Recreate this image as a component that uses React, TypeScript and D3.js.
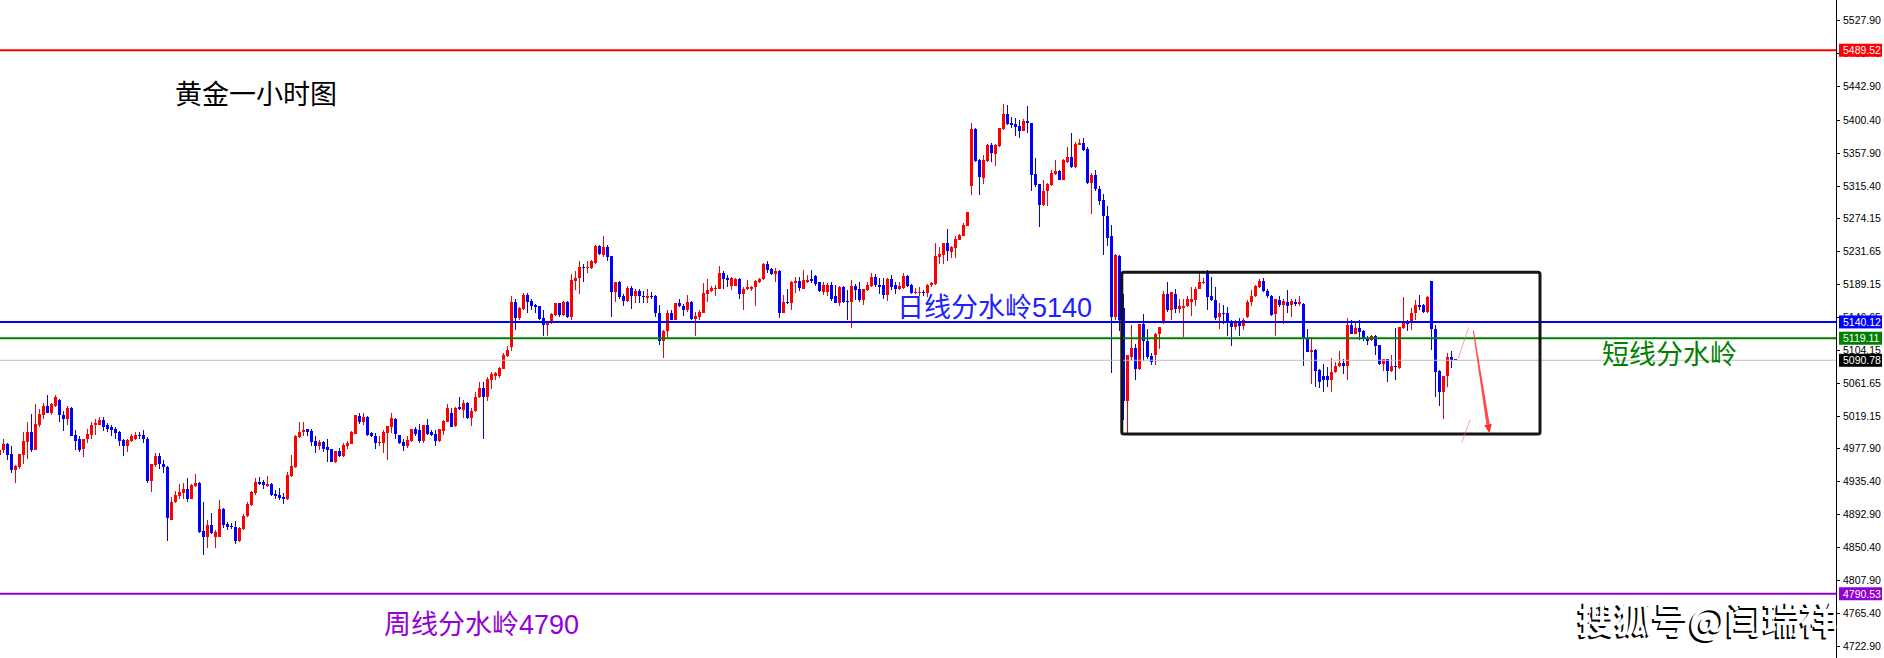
import React from "react";
import * as d3 from "d3";

const W = 1884;
const H = 658;
const AXIS_X = 1836;

// hourly candles, oldest first
const opens = [
  4969, 4975, 4983, 4970, 4950, 4953, 4969, 4986, 4998, 4976,
  5008, 5020, 5032, 5023, 5032, 5040, 5020, 5015, 5030, 4995,
  4989, 4977, 4990, 4995, 5007, 5008, 5014, 5007, 5005, 5002,
  4998, 4988, 4980, 4987, 4990, 4995, 4995, 4990, 4936, 4956,
  4968, 4957, 4953, 4886, 4908, 4916, 4920, 4925, 4913, 4929,
  4933, 4871, 4863, 4879, 4864, 4864, 4900, 4880, 4878, 4877,
  4858, 4874, 4890, 4905, 4920, 4934, 4934, 4929, 4932, 4919,
  4918, 4915, 4912, 4942, 4953, 4992, 4998, 5002, 5000, 4987,
  4980, 4986, 4979, 4977, 4960, 4974, 4968, 4981, 4983, 4996,
  5019, 5011, 5018, 4997, 4993, 4985, 4985, 4997, 5005, 5015,
  4995, 4986, 4981, 4987, 5002, 5001, 4987, 5008, 4998, 4996,
  4987, 5000, 5012, 5023, 5006, 5031, 5027, 5036, 5017, 5025,
  5043, 5055, 5043, 5065, 5071, 5071, 5080, 5096, 5108, 5166,
  5145, 5157, 5175, 5167, 5162, 5160, 5145, 5136, 5139, 5149,
  5164, 5149, 5166, 5146, 5193, 5196, 5211, 5209, 5209, 5216,
  5238, 5226, 5236, 5225, 5178, 5192, 5174, 5167, 5184, 5173,
  5180, 5174, 5171, 5173, 5173, 5152, 5115, 5128, 5151, 5143,
  5164, 5161, 5155, 5166, 5144, 5147, 5152, 5176, 5180, 5182,
  5183, 5203, 5196, 5186, 5186, 5195, 5176, 5182, 5182, 5185,
  5192, 5195, 5214, 5208, 5202, 5206, 5152, 5166, 5164, 5190,
  5193, 5183, 5192, 5195, 5199, 5191, 5179, 5179, 5188, 5173,
  5165, 5185, 5167, 5166, 5186, 5182, 5168, 5181, 5186, 5198,
  5188, 5187, 5175, 5195, 5187, 5183, 5184, 5199, 5188, 5177,
  5178, 5179, 5177, 5187, 5189, 5224, 5226, 5241, 5230, 5235,
  5246, 5251, 5264, 5315, 5388, 5348, 5325, 5347, 5368, 5356,
  5366, 5388, 5408, 5396, 5394, 5392, 5386, 5399, 5396, 5330,
  5318, 5291, 5308, 5316, 5330, 5334, 5323, 5346, 5352, 5339,
  5368, 5370, 5362, 5319, 5329, 5311, 5297, 5276, 5250, 5146,
  5225, 5158, 5038, 5095, 5107, 5079, 5137, 5115, 5096, 5098,
  5124, 5139, 5176, 5155, 5176, 5157, 5158, 5161, 5166, 5168,
  5183, 5191, 5205, 5173, 5168, 5146, 5152, 5151, 5139, 5134,
  5139, 5135, 5146, 5166, 5173, 5185, 5193, 5180, 5173, 5150,
  5168, 5162, 5166, 5162, 5166, 5163, 5163, 5119, 5102, 5104,
  5078, 5071, 5071, 5065, 5076, 5083, 5087, 5084, 5136, 5125,
  5132, 5128, 5119, 5117, 5122, 5110, 5086, 5092, 5077, 5083,
  5081, 5132, 5140, 5139, 5151, 5162, 5162, 5153, 5193, 5131,
  5077, 5050, 5070, 5095, 5093,
];

const highs = [
  4979, 4990, 4984, 4981, 4956, 4970, 4999, 5011, 5022, 5035,
  5028, 5036, 5046, 5036, 5046, 5041, 5025, 5032, 5031, 5001,
  4993, 4990, 5003, 5011, 5015, 5018, 5018, 5010, 5008, 5005,
  5000, 4989, 4990, 4996, 4999, 4998, 5001, 4992, 4957, 4971,
  4971, 4963, 4955, 4915, 4923, 4932, 4933, 4939, 4932, 4944,
  4934, 4908, 4885, 4894, 4872, 4911, 4901, 4883, 4881, 4884,
  4877, 4893, 4908, 4923, 4940, 4941, 4937, 4942, 4933, 4924,
  4926, 4920, 4947, 4969, 4995, 5011, 5011, 5003, 5003, 4993,
  4988, 4987, 4990, 4977, 4974, 4978, 4984, 4987, 5000, 5021,
  5023, 5023, 5019, 4998, 4997, 4993, 5001, 5006, 5023, 5016,
  4995, 4990, 4993, 5003, 5005, 5009, 5008, 5015, 5001, 5001,
  5003, 5014, 5035, 5029, 5031, 5044, 5040, 5037, 5029, 5050,
  5063, 5063, 5069, 5076, 5076, 5082, 5100, 5109, 5173, 5169,
  5159, 5177, 5177, 5170, 5163, 5161, 5155, 5141, 5151, 5165,
  5165, 5167, 5167, 5202, 5206, 5219, 5215, 5218, 5220, 5239,
  5239, 5251, 5239, 5225, 5192, 5193, 5176, 5186, 5186, 5183,
  5182, 5180, 5182, 5179, 5175, 5162, 5130, 5156, 5155, 5165,
  5170, 5163, 5175, 5167, 5153, 5156, 5190, 5195, 5186, 5188,
  5212, 5205, 5200, 5198, 5196, 5196, 5185, 5194, 5186, 5194,
  5197, 5216, 5219, 5209, 5209, 5207, 5175, 5182, 5193, 5198,
  5198, 5207, 5200, 5207, 5200, 5192, 5192, 5190, 5191, 5188,
  5186, 5186, 5181, 5194, 5189, 5192, 5183, 5192, 5203, 5202,
  5196, 5197, 5196, 5200, 5191, 5192, 5203, 5200, 5189, 5184,
  5185, 5181, 5189, 5192, 5241, 5237, 5242, 5259, 5238, 5250,
  5253, 5267, 5282, 5396, 5389, 5350, 5355, 5369, 5370, 5369,
  5390, 5420, 5419, 5404, 5402, 5400, 5401, 5418, 5396, 5351,
  5318, 5323, 5319, 5336, 5348, 5336, 5349, 5365, 5383, 5371,
  5375, 5377, 5365, 5332, 5335, 5315, 5304, 5289, 5265, 5228,
  5226, 5176, 5097, 5136, 5112, 5138, 5150, 5131, 5100, 5126,
  5134, 5180, 5192, 5179, 5183, 5170, 5169, 5173, 5185, 5185,
  5203, 5196, 5207, 5198, 5185, 5164, 5162, 5159, 5143, 5143,
  5145, 5145, 5168, 5181, 5188, 5195, 5196, 5182, 5175, 5170,
  5173, 5169, 5181, 5169, 5170, 5173, 5164, 5131, 5121, 5105,
  5079, 5086, 5082, 5094, 5089, 5103, 5093, 5145, 5143, 5140,
  5142, 5130, 5122, 5123, 5123, 5110, 5093, 5093, 5097, 5132,
  5134, 5172, 5143, 5158, 5168, 5175, 5163, 5173, 5193, 5136,
  5078, 5070, 5100, 5103, 5093,
];

const lows = [
  4966, 4971, 4963, 4946, 4933, 4951, 4957, 4964, 4973, 4975,
  5005, 5015, 5023, 5020, 5031, 5011, 5000, 5007, 4993, 4975,
  4973, 4966, 4985, 4989, 4995, 5007, 5000, 4999, 4993, 4990,
  4981, 4968, 4973, 4986, 4988, 4990, 4985, 4933, 4922, 4954,
  4951, 4946, 4859, 4885, 4907, 4913, 4912, 4908, 4912, 4928,
  4869, 4841, 4849, 4867, 4850, 4863, 4875, 4873, 4874, 4854,
  4857, 4873, 4889, 4903, 4918, 4930, 4925, 4928, 4916, 4913,
  4911, 4906, 4911, 4941, 4952, 4991, 4993, 4993, 4980, 4972,
  4975, 4973, 4960, 4960, 4959, 4966, 4966, 4977, 4983, 4996,
  5009, 5008, 4993, 4992, 4977, 4981, 4972, 4963, 4997, 4989,
  4983, 4974, 4978, 4986, 4993, 4985, 4985, 4995, 4993, 4981,
  4986, 4995, 5011, 5005, 5005, 5027, 5016, 5015, 5006, 5024,
  5042, 4990, 5038, 5054, 5065, 5068, 5079, 5095, 5103, 5130,
  5143, 5155, 5152, 5156, 5151, 5143, 5122, 5122, 5138, 5148,
  5147, 5148, 5145, 5143, 5181, 5176, 5192, 5203, 5208, 5215,
  5226, 5223, 5218, 5146, 5166, 5170, 5161, 5166, 5157, 5165,
  5165, 5165, 5165, 5169, 5146, 5110, 5094, 5119, 5142, 5142,
  5159, 5148, 5153, 5143, 5122, 5143, 5151, 5166, 5178, 5173,
  5182, 5183, 5185, 5181, 5186, 5170, 5156, 5181, 5180, 5160,
  5190, 5194, 5203, 5200, 5192, 5145, 5151, 5163, 5156, 5177,
  5180, 5182, 5190, 5190, 5186, 5179, 5175, 5173, 5167, 5164,
  5160, 5164, 5143, 5132, 5168, 5166, 5162, 5180, 5185, 5185,
  5176, 5170, 5167, 5181, 5176, 5181, 5183, 5185, 5176, 5176,
  5173, 5173, 5172, 5185, 5188, 5215, 5215, 5219, 5222, 5222,
  5245, 5250, 5263, 5303, 5346, 5303, 5318, 5346, 5346, 5341,
  5365, 5387, 5393, 5389, 5379, 5376, 5385, 5383, 5308, 5313,
  5262, 5289, 5289, 5315, 5329, 5322, 5322, 5345, 5338, 5338,
  5367, 5360, 5318, 5279, 5309, 5290, 5226, 5238, 5074, 5143,
  5128, 5014, 4996, 5091, 5065, 5078, 5090, 5093, 5085, 5085,
  5105, 5138, 5153, 5143, 5152, 5151, 5121, 5159, 5148, 5160,
  5182, 5189, 5156, 5167, 5143, 5131, 5138, 5122, 5109, 5130,
  5122, 5130, 5145, 5161, 5172, 5184, 5179, 5171, 5148, 5122,
  5159, 5137, 5152, 5147, 5161, 5161, 5083, 5101, 5060, 5056,
  5055, 5050, 5056, 5050, 5075, 5082, 5073, 5066, 5124, 5124,
  5117, 5116, 5110, 5115, 5098, 5085, 5077, 5063, 5076, 5065,
  5080, 5131, 5128, 5130, 5142, 5156, 5152, 5152, 5104, 5044,
  5032, 5015, 5056, 5081, 5091,
];

const closes = [
  4975, 4983, 4969, 4950, 4955, 4970, 4987, 4998, 4976, 5009,
  5022, 5032, 5023, 5034, 5043, 5020, 5015, 5030, 4994, 4987,
  4976, 4990, 4996, 5008, 5010, 5014, 5005, 5003, 5001, 4997,
  4987, 4980, 4988, 4993, 4995, 4994, 4990, 4936, 4957, 4968,
  4957, 4953, 4888, 4909, 4918, 4922, 4925, 4913, 4930, 4933,
  4870, 4863, 4879, 4869, 4870, 4900, 4879, 4877, 4876, 4859,
  4875, 4891, 4906, 4921, 4934, 4932, 4930, 4932, 4918, 4916,
  4914, 4913, 4943, 4955, 4993, 4999, 5001, 4999, 4986, 4980,
  4986, 4977, 4975, 4960, 4974, 4968, 4982, 4985, 4998, 5020,
  5011, 5018, 4995, 4993, 4984, 4986, 4998, 5006, 5016, 4996,
  4985, 4981, 4988, 5002, 4996, 4987, 5008, 4996, 4995, 4987,
  5002, 5013, 5030, 5005, 5030, 5028, 5036, 5016, 5026, 5044,
  5055, 5043, 5067, 5073, 5074, 5081, 5098, 5104, 5166, 5145,
  5158, 5175, 5166, 5161, 5159, 5144, 5136, 5140, 5150, 5164,
  5149, 5166, 5146, 5194, 5197, 5211, 5209, 5211, 5218, 5238,
  5228, 5236, 5224, 5178, 5192, 5172, 5167, 5184, 5173, 5180,
  5173, 5172, 5173, 5172, 5152, 5115, 5128, 5151, 5143, 5164,
  5160, 5155, 5166, 5144, 5148, 5153, 5177, 5181, 5184, 5184,
  5203, 5195, 5194, 5196, 5195, 5176, 5183, 5185, 5185, 5193,
  5195, 5214, 5207, 5202, 5206, 5152, 5166, 5164, 5191, 5193,
  5184, 5194, 5194, 5193, 5189, 5180, 5188, 5188, 5170, 5165,
  5185, 5166, 5166, 5186, 5181, 5168, 5182, 5188, 5198, 5187,
  5185, 5175, 5195, 5185, 5183, 5186, 5199, 5186, 5177, 5179,
  5179, 5177, 5188, 5190, 5225, 5227, 5241, 5231, 5236, 5247,
  5252, 5265, 5281, 5388, 5347, 5326, 5348, 5368, 5357, 5368,
  5389, 5408, 5394, 5393, 5391, 5386, 5399, 5396, 5329, 5316,
  5291, 5309, 5318, 5331, 5334, 5323, 5348, 5352, 5339, 5369,
  5370, 5361, 5319, 5329, 5311, 5296, 5276, 5248, 5146, 5226,
  5143, 5038, 5097, 5107, 5080, 5137, 5115, 5095, 5088, 5125,
  5134, 5176, 5155, 5178, 5157, 5161, 5161, 5170, 5169, 5183,
  5192, 5192, 5172, 5168, 5145, 5152, 5150, 5139, 5134, 5139,
  5135, 5142, 5166, 5173, 5186, 5193, 5180, 5173, 5149, 5169,
  5162, 5167, 5161, 5167, 5163, 5166, 5118, 5102, 5104, 5077,
  5063, 5065, 5066, 5076, 5083, 5087, 5084, 5136, 5125, 5132,
  5127, 5118, 5116, 5122, 5109, 5086, 5092, 5077, 5083, 5082,
  5133, 5139, 5138, 5152, 5162, 5159, 5153, 5172, 5131, 5076,
  5050, 5070, 5095, 5091, 5091,
];

// price axis tick labels
const tickValues = [
  5527.9, 5485.4, 5442.9, 5400.4, 5357.9, 5315.4, 5274.15, 5231.65, 5189.15, 5146.65,
  5104.15, 5061.65, 5019.15, 4977.9, 4935.4, 4892.9, 4850.4, 4807.9, 4765.4, 4722.9,
];

// horizontal levels: top red line, daily pivot, short-term pivot, bid, weekly pivot
const levelPrices = [5489.52, 5140.12, 5119.11, 5090.78, 4790.53];
const levelColors = ["#ff0000", "#0000ff", "#008000", "#c0c0c0", "#9400d3"];
const levelWidths = [2, 2, 2, 1, 2];
const levelBoxColors = ["#ff0000", "#0000ff", "#008000", "#000000", "#9400d3"];

// drawn objects, in candle index / price
const boxIndex = [280.7, 385.25];
const boxPrice = [5204, 4996];
const arrowFrom = [368.6, 5129];
const arrowTo = [372.6, 4997];
const thinLines = [
  [[364.8, 5093], [367.4, 5133]],
  [[365.7, 4985], [367.75, 5014]],
];

const UP = "#ff0000";
const DOWN = "#0000ff";
const AXIS_FONT = "'Liberation Sans', Arial, sans-serif";
const CJK_FONT = "'Liberation Sans', 'Noto Sans CJK SC', sans-serif";

export default function App() {
  const x = d3.scaleLinear().domain([0, opens.length - 1]).range([-1, -1 + 4 * (opens.length - 1)]);
  const y = d3.scaleLinear().domain([4707.9, 5554.1]).range([H, 0]);

  const candles = opens.map((o, i) => {
    const c = closes[i];
    const h = Math.max(highs[i], o, c);
    const l = Math.min(lows[i], o, c);
    const cx = Math.round(x(i));
    const bt = Math.round(y(Math.max(o, c)));
    const bb = Math.round(y(Math.min(o, c)));
    const wt = Math.round(y(h));
    const wb = Math.round(y(l));
    const col = c >= o ? UP : DOWN;
    return (
      <g key={i} fill={col}>
        <rect x={cx} y={wt} width={1} height={Math.max(1, wb - wt)} />
        <rect x={cx - 1} y={bt} width={3} height={Math.max(1, bb - bt)} />
      </g>
    );
  });

  // tapered arrow
  const p0 = [x(arrowFrom[0]), y(arrowFrom[1])];
  const p1 = [x(arrowTo[0]), y(arrowTo[1])];
  const len = Math.hypot(p1[0] - p0[0], p1[1] - p0[1]);
  const d = [(p1[0] - p0[0]) / len, (p1[1] - p0[1]) / len];
  const n = [-d[1], d[0]];
  const hb = [p1[0] - d[0] * 9, p1[1] - d[1] * 9];
  const shaft = [
    [p0[0] + n[0] * 0.5, p0[1] + n[1] * 0.5],
    [hb[0] + n[0] * 1.6, hb[1] + n[1] * 1.6],
    [hb[0] - n[0] * 1.6, hb[1] - n[1] * 1.6],
    [p0[0] - n[0] * 0.5, p0[1] - n[1] * 0.5],
  ];
  const head = [
    [p1[0], p1[1]],
    [hb[0] + n[0] * 3.8, hb[1] + n[1] * 3.8],
    [hb[0] - n[0] * 3.8, hb[1] - n[1] * 3.8],
  ];
  const pts = (a: number[][]) => a.map((p) => p.join(",")).join(" ");

  return (
    <>
      <style>{"body{margin:0;overflow:hidden}"}</style>
      <svg width={W} height={H} style={{ display: "block" }}>
        <rect x={0} y={0} width={W} height={H} fill="#ffffff" />

        {candles}

        {/* level lines */}
        {levelPrices.map((p, i) => (
          <line
            key={p}
            x1={0}
            x2={AXIS_X}
            y1={y(p)}
            y2={y(p)}
            stroke={levelColors[i]}
            strokeWidth={levelWidths[i]}
          />
        ))}

        {/* range box */}
        <rect
          x={x(boxIndex[0])}
          y={y(boxPrice[0])}
          width={x(boxIndex[1]) - x(boxIndex[0])}
          height={y(boxPrice[1]) - y(boxPrice[0])}
          fill="none"
          stroke="#151515"
          strokeWidth={3}
          rx={2}
        />

        {/* projected path */}
        {thinLines.map((seg, i) => (
          <line
            key={i}
            x1={x(seg[0][0])}
            y1={y(seg[0][1])}
            x2={x(seg[1][0])}
            y2={y(seg[1][1])}
            stroke="#ff6060"
            strokeOpacity={0.6}
            strokeWidth={1}
          />
        ))}
        <polygon points={pts(shaft)} fill="#ff2a2a" fillOpacity={0.85} />
        <polygon points={pts(head)} fill="#ff2a2a" />

        {/* texts */}
        <text x={175} y={104} fontFamily={CJK_FONT} fontSize={27} fill="#000000">
          黄金一小时图
        </text>
        <text x={897} y={y(5140.12) - 5} fontFamily={CJK_FONT} fontSize={27} fill="#2020ff">
          日线分水岭5140
        </text>
        <text x={1602} y={364} fontFamily={CJK_FONT} fontSize={27} fill="#008000">
          短线分水岭
        </text>
        <text x={384} y={634} fontFamily={CJK_FONT} fontSize={27} fill="#9400d3">
          周线分水岭4790
        </text>

        {/* price axis */}
        <line x1={AXIS_X + 0.5} x2={AXIS_X + 0.5} y1={0} y2={H} stroke="#000000" strokeWidth={1} />
        {tickValues.map((v) => (
          <g key={v}>
            <line x1={AXIS_X} x2={AXIS_X + 4} y1={Math.round(y(v)) + 0.5} y2={Math.round(y(v)) + 0.5} stroke="#000" />
            <text x={AXIS_X + 7} y={y(v) + 4} fontFamily={AXIS_FONT} fontSize={10.5} fill="#000000">
              {v.toFixed(2)}
            </text>
          </g>
        ))}
        {levelPrices.map((p, i) => (
          <g key={"b" + p}>
            <rect x={AXIS_X + 3} y={y(p) - 6.5} width={W - AXIS_X - 5} height={13} fill={levelBoxColors[i]} />
            <text x={AXIS_X + 7} y={y(p) + 4} fontFamily={AXIS_FONT} fontSize={10.5} fill="#ffffff">
              {p.toFixed(2)}
            </text>
          </g>
        ))}

        {/* watermark */}
        <text x={1576} y={636} fontFamily="'Noto Sans CJK SC', sans-serif" fontWeight={700} fontSize={37} fill="#000000">
          搜狐号@闫瑞祥
        </text>
        <text x={1578} y={634} fontFamily="'Noto Sans CJK SC', sans-serif" fontWeight={700} fontSize={37} fill="#ffffff">
          搜狐号@闫瑞祥
        </text>
      </svg>
    </>
  );
}
